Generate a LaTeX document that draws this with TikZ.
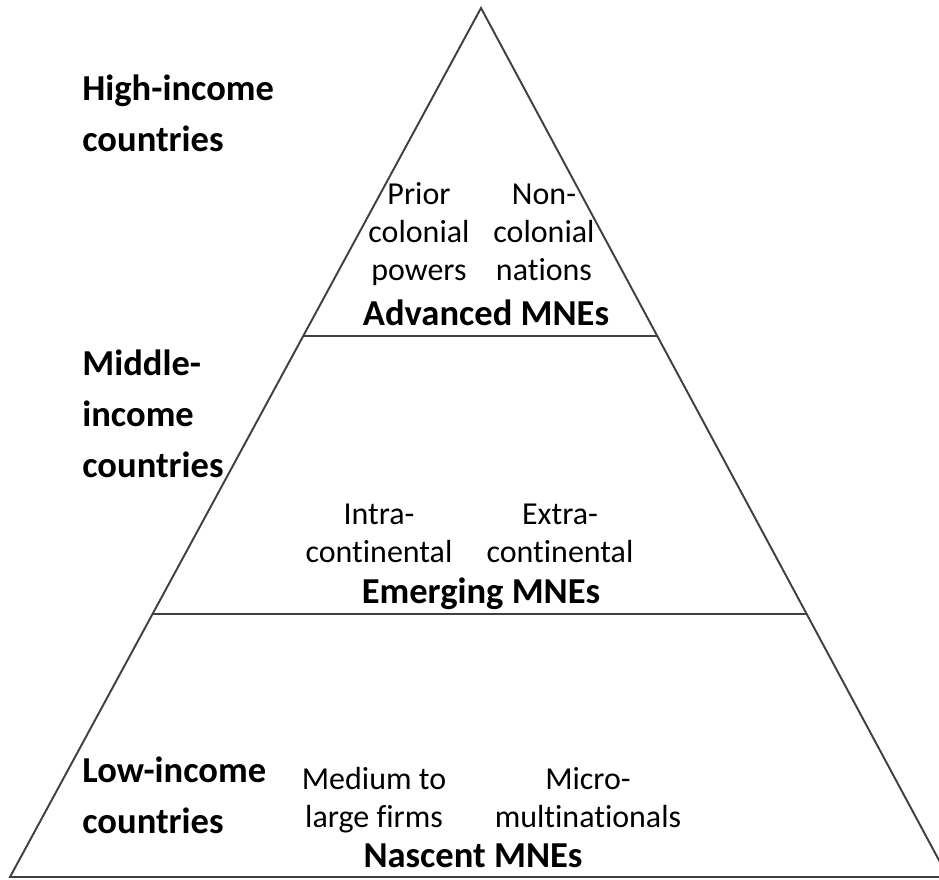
\documentclass[tikz,border=0pt]{standalone}
\usepackage{fontspec}
\setmainfont{Carlito}[Ligatures=NoCommon]
\usetikzlibrary{calc}
\usetikzlibrary{positioning}
\tikzstyle{edge}=[draw=black!75,line width=1.1pt]
\tikzstyle{income}=[anchor=base west,align=left,inner sep=0pt,font=\fontsize{20.8}{29}\selectfont\bfseries]
\tikzstyle{kind}=[anchor=base,align=center,inner sep=0pt,font=\fontsize{18.2}{21.6}\selectfont]
\tikzstyle{level}=[anchor=base,inner sep=0pt,font=\fontsize{20.8}{29}\selectfont\bfseries]

\begin{document}
\begin{tikzpicture}[x=0.02cm,y=-0.02cm]
    \useasboundingbox (0,0) rectangle (939,879);

    \coordinate (apex) at (481,8);
    \coordinate (bl) at (10,877);
    \coordinate (br) at (948,877);

    % pyramid and the two dividers
    \draw[edge,line join=miter] (bl) -- (apex) -- (br) -- cycle;
    \draw[edge] ($(apex)!0.3774!(bl)$) -- ($(apex)!0.3774!(br)$);
    \draw[edge] ($(apex)!0.6973!(bl)$) -- ($(apex)!0.6973!(br)$);

    % country groups
    \foreach \pos/\name/\txt in {{(82,151)/high/High-income\\countries}, {(82,477)/middle/Middle-\\income\\countries}, {(82,833)/low/Low-income\\countries}}
        \node[income] (\name) at \pos {\txt};

    % kinds of firms
    \foreach \pos/\name/\txt in {{(419,280)/prior/Prior\\colonial\\powers}, {(544,280)/noncol/Non-\\colonial\\nations}, {(379,562)/intra/Intra-\\continental}, {(560,562)/extra/Extra-\\continental}, {(374,827)/medium/Medium to\\large firms}, {(588,827)/micro/Micro-\\multinationals}}
        \node[kind] (\name) at \pos {\txt};

    % MNE levels
    \foreach \pos/\name/\txt in {{(486,325)/advanced/Advanced MNEs}, {(481,603)/emerging/Emerging MNEs}, {(473,867)/nascent/Nascent MNEs}}
        \node[level] (\name) at \pos {\txt};

\end{tikzpicture}
\end{document}
